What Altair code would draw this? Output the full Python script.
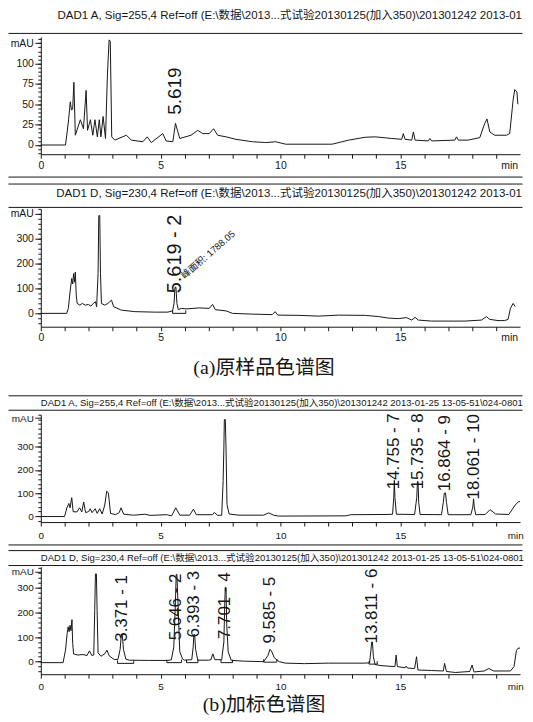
import altair as alt
import pandas as pd

W = 482
X_DOMAIN = [0, 20]
FONT = "Liberation Sans, Arial, Noto Sans CJK SC"
CAP_FONT = "Liberation Serif, Noto Sans CJK SC"
INK = "#161616"

# ---------------- header texts ----------------
HEAD_1 = "DAD1 A, Sig=255,4 Ref=off (E:\\数据\\2013...式试验20130125(加入350)\\201301242 2013-01"
HEAD_2 = "DAD1 D, Sig=230,4 Ref=off (E:\\数据\\2013...式试验20130125(加入350)\\201301242 2013-01"
HEAD_3 = "DAD1 A, Sig=255,4 Ref=off (E:\\数据\\2013...式试验20130125(加入350)\\201301242 2013-01-25 13-05-51\\024-0801"
HEAD_4 = "DAD1 D, Sig=230,4 Ref=off (E:\\数据\\2013...式试验20130125(加入350)\\201301242 2013-01-25 13-05-51\\024-0801"
CAPTION_A = "(a)原样品色谱图"
CAPTION_B = "(b)加标色谱图"

# ---------------- traces: (time min, mAU) ----------------
TRACE_1 = [(0.0, 0), (1.03, 0), (1.10, 16), (1.16, 31), (1.23, 53), (1.28, 43), (1.33, 44), (1.38, 77),
           (1.44, 12), (1.65, 31), (1.78, 20), (1.89, 67), (1.95, 18), (2.07, 31), (2.17, 12), (2.26, 31),
           (2.36, 10), (2.44, 31), (2.51, 10), (2.60, 35), (2.70, 8), (2.78, 86), (2.85, 129), (2.90, 127),
           (2.96, 10), (3.09, 6), (3.57, 12), (3.78, 6), (4.26, 4), (4.44, 10), (4.61, 3), (5.09, 14),
           (5.23, 5), (5.51, 4), (5.62, 26.5), (5.80, 8), (6.27, 12), (6.55, 18), (6.76, 14), (7.03, 14),
           (7.21, 20), (7.38, 12), (7.73, 10), (8.14, 7), (8.83, 4), (9.39, 3), (9.80, 4), (10.22, 1),
           (12.16, 1), (12.85, 6), (13.54, 9.5), (13.96, 10), (14.65, 8), (15.06, 7), (15.13, 14), (15.20, 7),
           (15.48, 6), (15.55, 16), (15.62, 6), (16.17, 5), (16.24, 8), (16.31, 5), (17.28, 6), (17.35, 10),
           (17.42, 6), (17.83, 6), (18.32, 9), (18.52, 26), (18.62, 32), (18.74, 16), (18.94, 12), (19.43, 12),
           (19.57, 14), (19.71, 55), (19.78, 68), (19.87, 65), (19.91, 50)]

TRACE_2 = [(0.0, 0), (1.08, 0), (1.15, 20), (1.22, 86), (1.29, 140), (1.33, 118), (1.37, 160), (1.41, 125),
           (1.44, 166), (1.48, 70), (1.52, 40), (1.63, 33), (1.73, 40), (1.86, 33), (1.98, 36), (2.09, 29),
           (2.19, 40), (2.28, 47), (2.33, 27), (2.39, 160), (2.42, 393), (2.46, 393), (2.49, 160), (2.53, 40),
           (2.67, 33), (2.80, 40), (2.95, 53), (3.04, 27), (3.36, 13), (3.92, 7), (4.75, 5), (5.30, 5),
           (5.50, 10), (5.56, 40), (5.60, 105), (5.64, 105), (5.68, 40), (5.74, 15), (5.86, 20), (6.06, 18),
           (6.62, 22), (7.03, 20), (7.17, 36), (7.28, 15), (7.73, 10), (8.00, 0), (8.83, -3), (9.66, -5),
           (9.78, 7), (9.89, -7), (10.77, -8), (11.60, -11), (12.43, -7), (13.54, -8), (14.10, -13), (14.51, -19),
           (14.93, -21), (15.26, -17), (15.48, -27), (15.62, -16), (15.76, -27), (16.31, -31), (17.70, -31),
           (18.39, -27), (18.60, -13), (18.73, -24), (19.08, -29), (19.36, -29), (19.50, -24), (19.60, 20),
           (19.71, 40), (19.80, 27)]

TRACE_3 = [(0.0, -2), (0.99, -2), (1.09, 36), (1.17, 55), (1.22, 36), (1.29, 80), (1.35, 19), (1.51, 18),
           (1.62, 36), (1.71, 18), (1.79, 61), (1.87, 15), (2.00, 20), (2.06, 32), (2.14, 15), (2.27, 32),
           (2.35, 12), (2.46, 32), (2.56, 9), (2.67, 48), (2.75, 108), (2.82, 101), (2.91, 12), (3.12, 6),
           (3.27, 15), (3.35, 36), (3.46, 8), (3.87, 4), (4.36, 8), (4.56, 3), (5.25, 6), (5.46, 1),
           (5.63, 36), (5.80, 4), (6.21, 4), (6.37, 30), (6.49, 6), (7.17, 6), (7.24, 16), (7.38, 3),
           (7.55, 4), (7.61, 155), (7.64, 296), (7.66, 419), (7.70, 419), (7.73, 296), (7.77, 50), (7.86, 9),
           (8.27, 4), (9.30, 4), (9.51, 14), (9.71, 4), (9.92, 0), (12.73, 1), (12.94, 6), (14.45, 7),
           (14.68, 8), (14.73, 80), (14.755, 155), (14.78, 80), (14.84, 8), (15.60, 7), (15.69, 80), (15.72, 150),
           (15.745, 150), (15.77, 60), (15.83, 7), (16.72, 6), (16.80, 60), (16.84, 100), (16.89, 100), (16.93, 60),
           (17.00, 6), (17.95, 6), (18.03, 40), (18.061, 75), (18.09, 40), (18.15, 6), (18.55, 7), (18.75, 28),
           (18.98, 9), (19.53, 7), (19.80, 48), (19.94, 63), (20.0, 63)]

TRACE_4 = [(0.0, -4), (0.93, -4), (1.03, 47), (1.10, 115), (1.14, 142), (1.18, 122), (1.22, 148), (1.26, 126),
           (1.30, 171), (1.33, 74), (1.37, 31), (1.55, 27), (1.76, 29), (1.93, 25), (2.03, 44), (2.13, 25),
           (2.21, 27), (2.25, 209), (2.28, 357), (2.32, 357), (2.35, 209), (2.39, 36), (2.51, 22), (2.68, 33),
           (2.76, 47), (2.86, 23), (3.06, 9), (3.22, 9), (3.31, 50), (3.36, 110), (3.40, 110), (3.45, 50),
           (3.55, 10), (3.70, 6), (4.50, 5), (5.30, 5), (5.45, 8), (5.55, 60), (5.62, 250), (5.65, 355),
           (5.68, 355), (5.72, 250), (5.80, 40), (5.92, 10), (6.00, 6), (6.30, 8), (6.36, 60), (6.39, 110),
           (6.42, 110), (6.46, 50), (6.55, 6), (7.00, 6), (7.10, 8), (7.18, 32), (7.26, 8), (7.55, 8),
           (7.64, 80), (7.68, 250), (7.70, 300), (7.73, 300), (7.76, 150), (7.82, 40), (7.95, 5), (8.50, 2),
           (9.30, 0), (9.48, 25), (9.56, 50), (9.62, 45), (9.75, 15), (9.95, 0), (10.20, -6), (11.00, -8),
           (12.00, -6), (13.50, -6), (13.72, -5), (13.77, 40), (13.81, 80), (13.84, 80), (13.88, 20), (13.95, -12),
           (14.20, -16), (14.70, -20), (14.78, -20), (14.83, 27), (14.88, -20), (15.20, -25), (15.25, -18),
           (15.30, -26), (15.60, -28), (15.68, 20), (15.74, -34), (16.30, -36), (16.80, -38), (16.85, -7),
           (16.93, -40), (17.30, -44), (17.90, -40), (18.00, -14), (18.08, -42), (18.50, -38), (18.70, -28),
           (18.90, -38), (19.60, -38), (19.75, -20), (19.85, 45), (19.92, 55), (20.0, 55)]

# ---------------- peak labels: (time, mAU at text start, text) ----------------
LABELS_1 = [(5.62, 37, "5.619")]
LABELS_2 = [(5.62, 81, "5.619 - 2")]
AREA_NOTE_2 = [(5.92, 146, "峰面积: 1788.05")]
LABELS_3 = [(14.755, 116, "14.755 - 7"), (15.735, 116, "15.735 - 8"),
            (16.864, 108, "16.864 - 9"), (18.061, 72, "18.061 - 10")]
LABELS_4 = [(3.371, 81, "3.371 - 1"), (5.646, 87, "5.646 - 2"), (6.393, 98, "6.393 - 3"),
            (7.701, 92, "7.701 - 4"), (9.585, 74, "9.585 - 5"), (13.811, 74, "13.811 - 6")]

# integration baselines: (start, end, level)
SEGS_2 = [(5.50, 6.05, 0)]
SEGS_4 = [(3.20, 3.88, -7), (5.26, 5.87, -4), (6.08, 6.56, -4), (7.52, 8.00, -4),
          (9.30, 9.85, -2), (13.70, 14.04, -10)]

ONE = pd.DataFrame({"k": [0]})


def hline(y, x1=-32.5, x2=484.5):
    return alt.Chart(ONE).mark_rule(color=INK, strokeWidth=1).encode(
        x=alt.value(x1), x2=alt.value(x2), y=alt.value(y))


def text_at(txt, x, y, size, align, font=FONT):
    return alt.Chart(pd.DataFrame({"s": [txt]})).mark_text(
        align=align, baseline="middle", font=font, fontSize=size, color=INK
    ).encode(x=alt.value(x), y=alt.value(y), text="s:N")


def panel(trace, ydom, height, major, mau, minor, labels, lab_size, tick_font,
          head, head_align, head_x, head_y, head_size, lines, min_at,
          xlab_pad=2, caption=None, cap_y=None, segs=None, note=None):
    df = pd.DataFrame(trace, columns=["t", "v"])
    xsc = alt.Scale(domain=X_DOMAIN, nice=False, zero=False)
    ysc = alt.Scale(domain=ydom, nice=False, zero=False)
    common = dict(grid=False, title=None, labelFlush=False, labelOverlap=False,
                  labelFont=FONT, labelColor=INK, domainColor=INK, tickColor=INK,
                  labelFontSize=tick_font)
    xaxis = alt.Axis(orient="bottom", values=list(range(0, 20)),
                     labelExpr="datum.value % 5 == 0 ? datum.label : ''",
                     tickSize=4, labelPadding=xlab_pad, **common)
    yaxis = alt.Axis(orient="left", values=major + [mau],
                     labelExpr=f"datum.value == {mau} ? 'mAU' : datum.label",
                     tickSize=6, labelPadding=1.5, **common)
    xaxis_min = alt.Axis(orient="bottom", values=[min_at], labelExpr="'min'", ticks=False,
                         domain=False, labelPadding=xlab_pad + 4, **common)
    yaxis_minor = alt.Axis(orient="left", values=minor, labels=False, tickSize=3,
                           domain=False, **common)

    layers = [
        alt.Chart(df).mark_line(color=INK, strokeWidth=1).encode(
            x=alt.X("t:Q", scale=xsc, axis=xaxis),
            y=alt.Y("v:Q", scale=ysc, axis=yaxis)),
        alt.Chart(df).mark_point(opacity=0).encode(
            x=alt.X("t:Q", scale=xsc, axis=xaxis_min),
            y=alt.Y("v:Q", scale=ysc, axis=yaxis_minor)),
    ]
    ldf = pd.DataFrame(labels, columns=["t", "v", "txt"])
    layers.append(alt.Chart(ldf).mark_text(
        angle=270, align="left", baseline="middle", font=FONT, fontSize=lab_size, color=INK
    ).encode(x=alt.X("t:Q", scale=xsc, axis=None), y=alt.Y("v:Q", scale=ysc, axis=None), text="txt:N"))
    if note:
        ndf = pd.DataFrame(note, columns=["t", "v", "txt"])
        layers.append(alt.Chart(ndf).mark_text(
            angle=319, align="left", baseline="middle", font=FONT, fontSize=9.5, color=INK
        ).encode(x=alt.X("t:Q", scale=xsc, axis=None), y=alt.Y("v:Q", scale=ysc, axis=None), text="txt:N"))
    if segs:
        sdf = pd.DataFrame(segs, columns=["t1", "t2", "v"])
        vdf = pd.DataFrame(
            [(s[0], s[2], s[2] + 12) for s in segs] + [(s[1], s[2], s[2] + 12) for s in segs],
            columns=["t", "v", "v2"])
        layers.append(alt.Chart(sdf).mark_rule(color=INK, strokeWidth=1).encode(
            x=alt.X("t1:Q", scale=xsc, axis=None), x2="t2:Q",
            y=alt.Y("v:Q", scale=ysc, axis=None)))
        layers.append(alt.Chart(vdf).mark_rule(color=INK, strokeWidth=1).encode(
            x=alt.X("t:Q", scale=xsc, axis=None),
            y=alt.Y("v:Q", scale=ysc, axis=None), y2="v2:Q"))
    for ly in lines:
        layers.append(hline(ly))
    layers.append(text_at(head, head_x, head_y, head_size, head_align))
    if caption:
        layers.append(text_at(caption, 224.5, cap_y, 20, "center", CAP_FONT))
    return alt.layer(*layers).resolve_axis(x="independent", y="independent").properties(
        width=W, height=height)


p1 = panel(TRACE_1, [-11.3, 132.7], 118, [0, 25, 50, 75, 100], 125,
           list(range(-10, 131, 5)), LABELS_1, 19, 10.5,
           HEAD_1, "right", 484, -21, 11.6, [-3.5, 141], 19.55)
p2 = panel(TRACE_2, [-53.6, 420], 118.5, [0, 100, 200, 300], 400,
           list(range(-40, 421, 20)), LABELS_2, 20, 10.5,
           HEAD_2, "right", 484, -15, 11.6, [-25, -1.5], 19.55,
           caption=CAPTION_A, cap_y=159.7, segs=SEGS_2, note=AREA_NOTE_2)
p3 = panel(TRACE_3, [-26, 440], 108, [0, 100, 200, 300], 425,
           list(range(-20, 441, 20)), LABELS_3, 17, 10,
           HEAD_3, "left", 0, -11.5, 9.6, [-19, -4.5, 131], 19.8, xlab_pad=5)
p4 = panel(TRACE_4, [-51, 386], 108, [0, 100, 200, 300], 365,
           list(range(-40, 381, 20)), LABELS_4, 17, 10,
           HEAD_4, "left", 0, -8.7, 9.6, [-16.3, -1.3], 19.8, xlab_pad=3,
           caption=CAPTION_B, cap_y=139, segs=SEGS_4)


def spacer(h):
    return alt.Chart(ONE).mark_point(opacity=0).encode(
        x=alt.value(0), y=alt.value(0)).properties(width=W, height=h)


chart = alt.vconcat(p1, spacer(55), p2, spacer(88), p3, spacer(45), p4,
                    spacing=0, bounds="flush").properties(
    padding=0, background="white"
).configure_view(stroke=None)

chart.save("out.html", embed_options={"renderer": "svg", "actions": False})
